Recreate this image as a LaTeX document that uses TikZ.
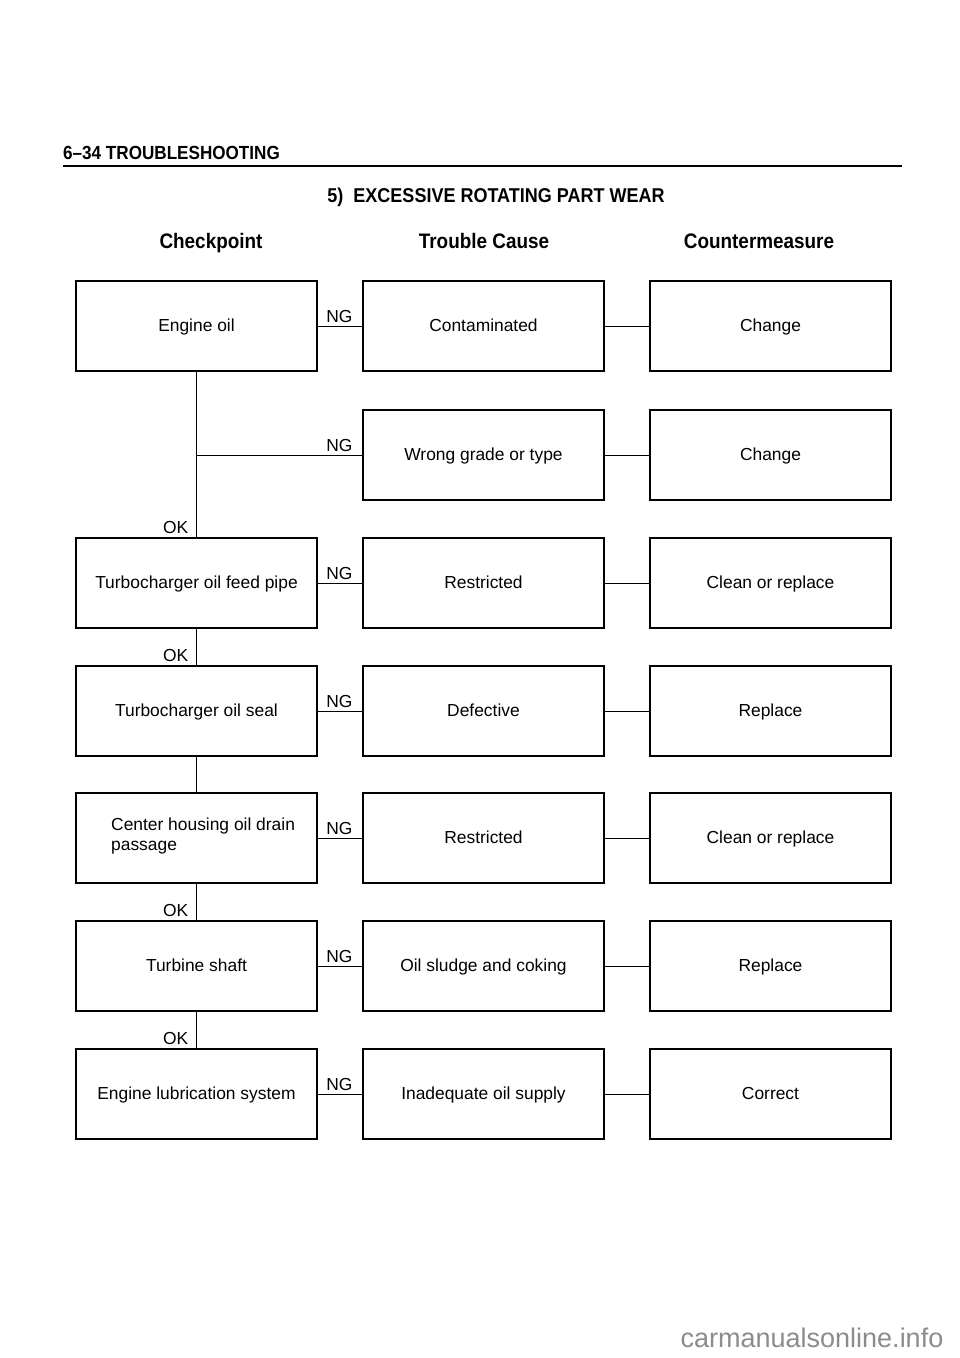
\documentclass[tikz,border=0pt]{standalone}
\usepackage{fontspec}
\setmainfont{Liberation Sans}
\newfontfamily\hdfont[FakeStretch=0.9]{Liberation Sans}
\begin{document}
\begin{tikzpicture}[x=1pt,y=-1pt,
  box/.style={draw, line width=1.3pt, minimum width=241pt, minimum height=90pt, inner sep=0pt, align=center, text height=14.5pt, text depth=3.6pt, font=\fontsize{17.4}{20}\selectfont},
  conn/.style={line width=1pt},
  lbl/.style={inner sep=0pt, font=\fontsize{17.4}{20}\selectfont},
  hd/.style={inner sep=0pt, anchor=base, font=\hdfont\bfseries\fontsize{21}{24}\selectfont}]
\useasboundingbox (0,0) rectangle (960,1358);
\fill[white] (0,0) rectangle (960,1358);

% page header
\node[inner sep=0pt, anchor=base west, font=\hdfont\bfseries\fontsize{19}{22}\selectfont] (pagehd) at (63,159) {6–34 TROUBLESHOOTING};
\coordinate (rulea) at (63,166);
\coordinate (ruleb) at (902,166);
\draw[line width=2.6pt] (rulea) -- (ruleb);
\node[inner sep=0pt, anchor=base, font=\hdfont\bfseries\fontsize{20}{22}\selectfont] (title) at (496,202) {5)\ \ EXCESSIVE ROTATING PART WEAR};

% column headers
\node[hd] (hcp) at (211,248) {Checkpoint};
\node[hd] (htc) at (484,248) {Trouble Cause};
\node[hd] (hcm) at (759,248) {Countermeasure};

% checkpoints
\node[box] (c1) at (196.5,326) {Engine oil};
\node[box] (c3) at (196.5,583) {Turbocharger oil feed pipe};
\node[box] (c4) at (196.5,711) {Turbocharger oil seal};
\node[box] (c5) at (196.5,838) {};
\node[lbl, anchor=west, align=left] (c5t) at (111,836) {Center housing oil drain\\passage};
\node[box] (c6) at (196.5,966) {Turbine shaft};
\node[box] (c7) at (196.5,1094) {Engine lubrication system};

% trouble causes
\node[box] (t1) at (483.5,326) {Contaminated};
\node[box] (t2) at (483.5,455) {Wrong grade or type};
\node[box] (t3) at (483.5,583) {Restricted};
\node[box] (t4) at (483.5,711) {Defective};
\node[box] (t5) at (483.5,838) {Restricted};
\node[box] (t6) at (483.5,966) {Oil sludge and coking};
\node[box] (t7) at (483.5,1094) {Inadequate oil supply};

% countermeasures
\node[box] (m1) at (770.5,326) {Change};
\node[box] (m2) at (770.5,455) {Change};
\node[box] (m3) at (770.5,583) {Clean or replace};
\node[box] (m4) at (770.5,711) {Replace};
\node[box] (m5) at (770.5,838) {Clean or replace};
\node[box] (m6) at (770.5,966) {Replace};
\node[box] (m7) at (770.5,1094) {Correct};

% vertical flow
\draw[conn] (c1.south) -- (c3.north);
\draw[conn] (c3.south) -- (c4.north);
\draw[conn] (c4.south) -- (c5.north);
\draw[conn] (c5.south) -- (c6.north);
\draw[conn] (c6.south) -- (c7.north);

% NG connectors
\draw[conn] (c1.east) -- (t1.west);
\coordinate (j2) at (c1.south |- t2.west);
\draw[conn] (j2) -- (t2.west);
\draw[conn] (c3.east) -- (t3.west);
\draw[conn] (c4.east) -- (t4.west);
\draw[conn] (c5.east) -- (t5.west);
\draw[conn] (c6.east) -- (t6.west);
\draw[conn] (c7.east) -- (t7.west);

\foreach \t in {t1,t2,t3,t4,t5,t6,t7}{
  \node[lbl, anchor=south] (ng\t) at ([xshift=-23pt,yshift=3pt]\t.west) {NG};
}

% trouble -> countermeasure
\foreach \i in {1,...,7}{
  \draw[conn] (t\i.east) -- (m\i.west);
}

% OK labels
\node[lbl, anchor=east] (ok3) at ([xshift=-8pt,yshift=10pt]c3.north) {OK};
\node[lbl, anchor=east] (ok4) at ([xshift=-8pt,yshift=10pt]c4.north) {OK};
\node[lbl, anchor=east] (ok6) at ([xshift=-8pt,yshift=10pt]c6.north) {OK};
\node[lbl, anchor=east] (ok7) at ([xshift=-8pt,yshift=10pt]c7.north) {OK};

% watermark
\node[inner sep=0pt, text=black!45, font=\fontsize{27}{30}\selectfont] (wm) at (812,1338) {carmanualsonline.info};
\end{tikzpicture}
\end{document}
